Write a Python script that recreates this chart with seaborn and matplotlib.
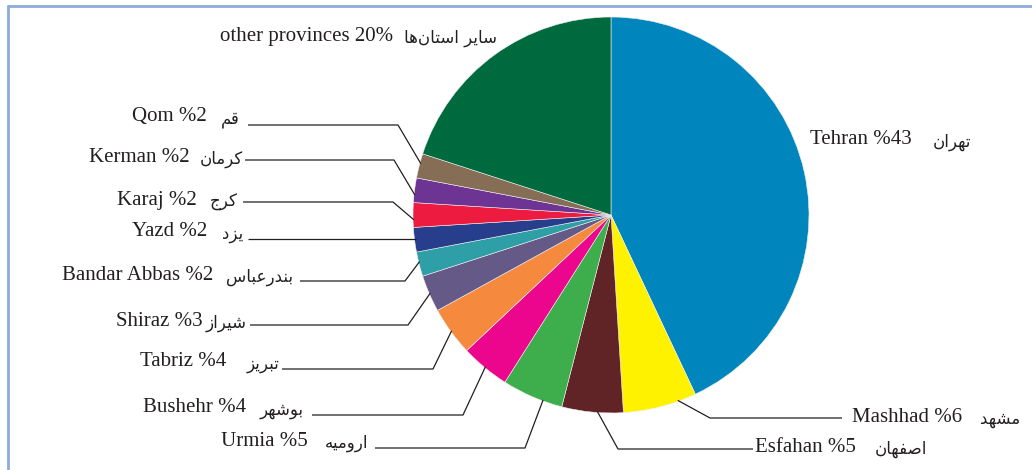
import matplotlib
matplotlib.use("Agg")
import matplotlib.pyplot as plt
import seaborn as sns
import numpy as np
from matplotlib.lines import Line2D

# ---------------- data ----------------
cities_en = ["Tehran", "Mashhad", "Esfahan", "Urmia", "Bushehr", "Tabriz", "Shiraz",
             "Bandar Abbas", "Yazd", "Karaj", "Kerman", "Qom", "other provinces"]
cities_fa = ["تهران", "مشهد", "اصفهان", "ارومیه", "بوشهر", "تبریز", "شیراز",
             "بندرعباس", "یزد", "کرج", "کرمان", "قم", "سایر استان\u200cها"]
shares = [43, 6, 5, 5, 4, 4, 3, 2, 2, 2, 2, 2, 20]
colors = ["#0086BC", "#FFF200", "#612426", "#3EAD4B", "#EC068D", "#F58A3E", "#655988",
          "#2E9FA6", "#263E8C", "#ED1B3F", "#6E3493", "#866D56", "#006A3F"]

# ---------------- layout (pixel coords, y from top) ----------------
W, H = 1032, 470
CX, CY, R = 611, 215, 198
side = ["R", "R", "R", "L", "L", "L", "L", "L", "L", "L", "L", "L", "L"]
text_y = [140, 417, 447, 441, 408, 362, 321, 275, 232, 200, 157, 117, 36]
en_x = [810, 852, 755, 308, 246, 226, 203, 213, 207, 197, 190, 207, 393]
fa_x = [933, 980, 875, 368, 304, 279, 247, 293, 243, 238, 243, 240, 497]
leaders = [None, (842, 418, 710), (753, 449, 618), (375, 448, 525), (312, 415, 463),
           (282, 369, 433), (250, 325, 408), (300, 281, 405), (248, 239, None),
           (243, 202, 393), (245, 160, 394), (248, 125, 398), None]
# where, within its slice (0..1 clockwise), each leader line touches the pie
anchor_frac = [0.5, 0.25, 0.42, 0.32, 0.5, 0.5, 0.5, 0.6, 0.5, 0.3, 0.3, 0.6, 0.5]

# ---------------- simple Arabic shaping ----------------
FORMS = {
    "\u0627": (0xFE8D, 0xFE8E, None, None),
    "\u0628": (0xFE8F, 0xFE90, 0xFE91, 0xFE92),
    "\u062A": (0xFE95, 0xFE96, 0xFE97, 0xFE98),
    "\u062C": (0xFE9D, 0xFE9E, 0xFE9F, 0xFEA0),
    "\u062F": (0xFEA9, 0xFEAA, None, None),
    "\u0631": (0xFEAD, 0xFEAE, None, None),
    "\u0632": (0xFEAF, 0xFEB0, None, None),
    "\u0633": (0xFEB1, 0xFEB2, 0xFEB3, 0xFEB4),
    "\u0634": (0xFEB5, 0xFEB6, 0xFEB7, 0xFEB8),
    "\u0635": (0xFEB9, 0xFEBA, 0xFEBB, 0xFEBC),
    "\u0639": (0xFEC9, 0xFECA, 0xFECB, 0xFECC),
    "\u0641": (0xFED1, 0xFED2, 0xFED3, 0xFED4),
    "\u0642": (0xFED5, 0xFED6, 0xFED7, 0xFED8),
    "\u0643": (0xFED9, 0xFEDA, 0xFEDB, 0xFEDC),
    "\u0645": (0xFEE1, 0xFEE2, 0xFEE3, 0xFEE4),
    "\u0646": (0xFEE5, 0xFEE6, 0xFEE7, 0xFEE8),
    "\u0647": (0xFEE9, 0xFEEA, 0xFEEB, 0xFEEC),
    "\u0648": (0xFEED, 0xFEEE, None, None),
    "\u064A": (0xFEF1, 0xFEF2, 0xFEF3, 0xFEF4),
}


def shape(s):
    s = s.replace("\u06CC", "\u064A").replace("\u06A9", "\u0643")
    out = []
    n = len(s)
    for i, c in enumerate(s):
        if c == "\u200c":
            continue
        if c not in FORMS:
            out.append(c)
            continue
        iso, fin, ini, med = FORMS[c]
        p = s[i - 1] if i > 0 else ""
        nx = s[i + 1] if i + 1 < n else ""
        prev_j = p in FORMS and FORMS[p][2] is not None
        next_j = nx in FORMS
        dual = ini is not None
        if prev_j and next_j and dual:
            g = med
        elif prev_j:
            g = fin
        elif next_j and dual:
            g = ini
        else:
            g = iso
        out.append(chr(g))
    return "".join(out)[::-1]


# ---------------- plot ----------------
sns.set_theme(style="white")
plt.rcParams["font.family"] = ["Liberation Serif", "DejaVu Sans"]

fig = plt.figure(figsize=(W / 100, H / 100), dpi=100)
ax = fig.add_axes([0, 0, 1, 1])

pal = sns.color_palette(colors)
ax.pie(shares, colors=pal, startangle=90, counterclock=False,
       center=(CX, H - CY), radius=R,
       wedgeprops=dict(linewidth=0.4, edgecolor="#f0f0f0"))
ax.set_xlim(0, W)
ax.set_ylim(0, H)
ax.set_aspect("equal")
ax.axis("off")

TXT = "#231F20"
cum = np.cumsum([0] + shares[:-1])
total = float(sum(shares))
for i in range(len(shares)):
    pos = cum[i] + shares[i] * anchor_frac[i]
    ang = np.deg2rad(90 - 360 * pos / total)
    px = CX + R * 0.995 * np.cos(ang)
    py = CY - R * 0.995 * np.sin(ang)
    en = f"{cities_en[i]} %{shares[i]}" if i < len(shares) - 1 else f"{cities_en[i]} {shares[i]}%"
    fa = shape(cities_fa[i])
    ty = H - text_y[i]
    ha = "left" if side[i] == "R" else "right"
    ax.text(en_x[i], ty, en, ha=ha, va="center", fontsize=15,
            family="Liberation Serif", color=TXT)
    ax.text(fa_x[i], ty - 2, fa, ha=ha, va="center", fontsize=12,
            family="DejaVu Sans", color=TXT)
    ld = leaders[i]
    if ld is not None:
        xs, yl, xe = ld
        if xe is None:
            xx = [xs, px]
            yy = [H - yl, H - yl]
        else:
            xx = [xs, xe, px]
            yy = [H - yl, H - yl, H - py]
        ax.plot(xx, yy, color=TXT, lw=0.9, solid_capstyle="butt")

# frame lines (top and left)
bc = "#8FAADC"
fig.add_artist(Line2D([7.5 / W, 1], [1 - 5.5 / H, 1 - 5.5 / H], color=bc, lw=2,
                      transform=fig.transFigure))
fig.add_artist(Line2D([7.5 / W, 7.5 / W], [0, 1 - 5.5 / H], color=bc, lw=2,
                      transform=fig.transFigure))

fig.savefig("out.png", dpi=100, facecolor="white")
